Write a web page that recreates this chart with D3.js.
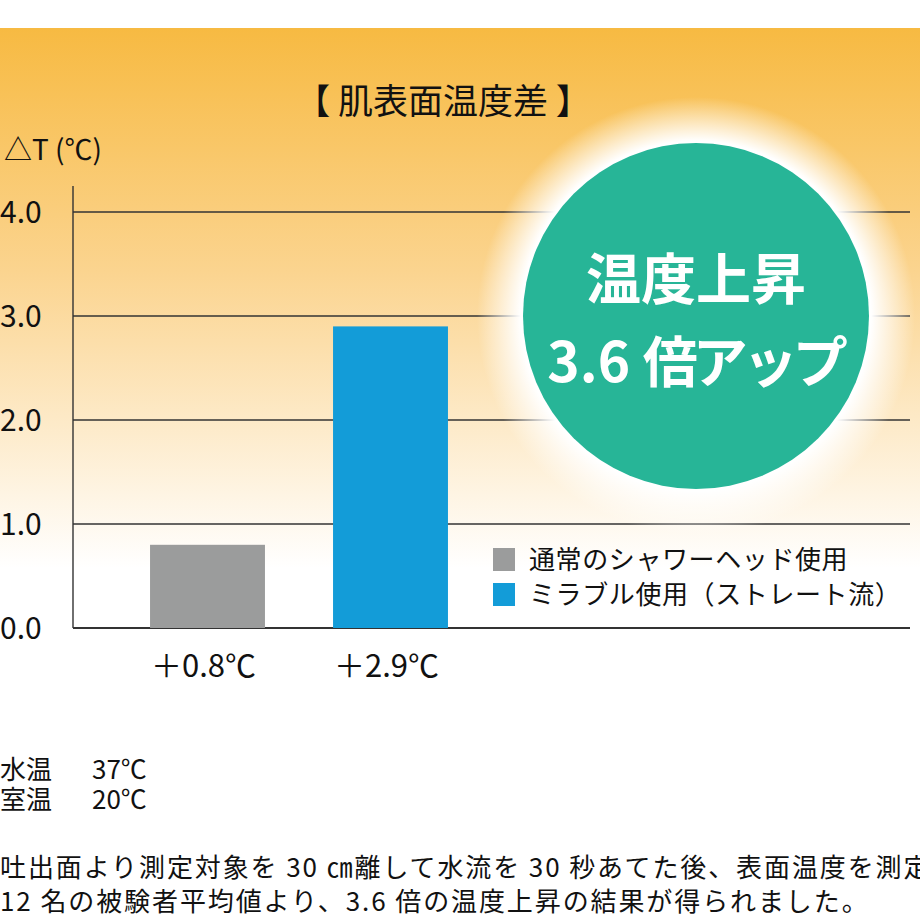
<!DOCTYPE html>
<html>
<head>
<meta charset="utf-8">
<script src="https://cdn.jsdelivr.net/npm/d3@7"></script>
<style>
body { margin: 0; background: #fff; }
text { font-family: "Noto Sans CJK JP", "Noto Sans", sans-serif; }
</style>
</head>
<body>
<div id="canvas"></div>
<script>
// ----------------------------------------------------------
// DATA -----------------------------------------------------
// ----------------------------------------------------------
var categories = ["通常のシャワーヘッド使用", "ミラブル使用（ストレート流）"];
var values = [0.8, 2.9];
var bar_labels = ["＋0.8℃", "＋2.9℃"];
var bar_colors = ["#9b9c9c", "#139cd8"];
var y_ticks = [0, 1, 2, 3, 4];
var notes = [["水温", "37℃"], ["室温", "20℃"]];
var footnote = [
  "吐出面より測定対象を 30 ㎝離して水流を 30 秒あてた後、表面温度を測定",
  "12 名の被験者平均値より、3.6 倍の温度上昇の結果が得られました。"
];

// ----------------------------------------------------------
// STRUCTURE ------------------------------------------------
// ----------------------------------------------------------
var W = 920, H = 920;
var plot_left = 73, plot_right = 910;
var plot_bottom = 628;

var container = d3.select("#canvas").append("svg")
  .attr("width", W)
  .attr("height", H);

var defs = container.append("defs");

var bg_grad = defs.append("linearGradient")
  .attr("id", "bg_grad")
  .attr("x1", 0).attr("y1", 0).attr("x2", 0).attr("y2", 1);
bg_grad.append("stop").attr("offset", "0").attr("stop-color", "#f7ba42");
bg_grad.append("stop").attr("offset", "0.45").attr("stop-color", "#fbd48f");
bg_grad.append("stop").attr("offset", "1").attr("stop-color", "#ffffff");

var glow_grad = defs.append("radialGradient")
  .attr("id", "glow_grad");
glow_grad.append("stop").attr("offset", "0.8").attr("stop-color", "#fff").attr("stop-opacity", 1);
glow_grad.append("stop").attr("offset", "0.9").attr("stop-color", "#fff").attr("stop-opacity", 0.5);
glow_grad.append("stop").attr("offset", "1").attr("stop-color", "#fff").attr("stop-opacity", 0);

// background
container.append("rect")
  .attr("x", 0).attr("y", 28)
  .attr("width", W).attr("height", 540)
  .style("fill", "url(#bg_grad)");

// ----------------------------------------------------------
// SCALES ---------------------------------------------------
// ----------------------------------------------------------
var yScale = d3.scaleLinear()
  .domain([0, 4])
  .range([plot_bottom, plot_bottom - 416]);

var xScale = d3.scaleBand()
  .domain(categories)
  .range([116, 482])
  .paddingInner(0.372)
  .paddingOuter(0.186);

// ----------------------------------------------------------
// GRID -----------------------------------------------------
// ----------------------------------------------------------
var grid_group = container.append("g").attr("class", "grid_group");

grid_group.selectAll("line")
  .data(y_ticks)
  .enter()
  .append("line")
  .attr("x1", plot_left)
  .attr("x2", plot_right)
  .attr("y1", d => yScale(d))
  .attr("y2", d => yScale(d))
  .style("stroke", "#333")
  .style("stroke-width", d => d === 0 ? 1.8 : 1.4);

grid_group.append("line")
  .attr("x1", plot_left).attr("x2", plot_left)
  .attr("y1", 186).attr("y2", plot_bottom)
  .style("stroke", "#333")
  .style("stroke-width", 1.4);

grid_group.selectAll("text")
  .data(y_ticks)
  .enter()
  .append("text")
  .attr("x", 0)
  .attr("y", d => yScale(d) + 11)
  .style("font-size", "30px")
  .style("fill", "#111")
  .text(d => d.toFixed(1));

// ----------------------------------------------------------
// BADGE ----------------------------------------------------
// ----------------------------------------------------------
var cx = 696, cy = 316, r = 173;

container.append("circle")
  .attr("cx", cx).attr("cy", cy).attr("r", r + 46)
  .style("fill", "url(#glow_grad)");

container.append("circle")
  .attr("cx", cx).attr("cy", cy).attr("r", r)
  .style("fill", "#27b597");

container.append("text")
  .attr("x", cx).attr("y", 299)
  .attr("text-anchor", "middle")
  .style("font-size", "55px")
  .style("font-weight", "bold")
  .style("fill", "#fff")
  .text("温度上昇");

var badge_2 = container.append("text")
  .attr("x", cx - 1).attr("y", 382)
  .attr("text-anchor", "middle")
  .style("font-size", "55px")
  .style("font-weight", "bold")
  .style("fill", "#fff");
badge_2.append("tspan").text("3.6 ");
badge_2.append("tspan").style("letter-spacing", "-5px").text("倍アップ");

// ----------------------------------------------------------
// BARS -----------------------------------------------------
// ----------------------------------------------------------
var bar_group = container.append("g").attr("class", "bar_group");

bar_group.selectAll("rect")
  .data(values)
  .enter()
  .append("rect")
  .attr("x", (d, i) => xScale(categories[i]))
  .attr("y", d => yScale(d))
  .attr("width", xScale.bandwidth())
  .attr("height", d => plot_bottom - yScale(d))
  .style("fill", (d, i) => bar_colors[i]);

bar_group.selectAll("text")
  .data(bar_labels)
  .enter()
  .append("text")
  .attr("x", (d, i) => xScale(categories[i]) + xScale.bandwidth() / 2 - 4)
  .attr("y", plot_bottom + 49)
  .attr("text-anchor", "middle")
  .style("font-size", "31px")
  .style("fill", "#111")
  .text(d => d);

// ----------------------------------------------------------
// TEXT -----------------------------------------------------
// ----------------------------------------------------------
container.append("text")
  .attr("x", 443).attr("y", 114)
  .attr("text-anchor", "middle")
  .style("font-size", "35px")
  .style("fill", "#111")
  .text("【 肌表面温度差 】");

container.append("text")
  .attr("x", 4).attr("y", 160)
  .style("font-size", "28px")
  .style("fill", "#111")
  .text("△T (℃)");

// legend
var legend = container.append("g")
  .attr("class", "legend")
  .attr("transform", "translate(493, 548)");

var legend_item = legend.selectAll("g")
  .data(categories)
  .enter()
  .append("g")
  .attr("transform", (d, i) => `translate(0, ${i * 35})`);

legend_item.append("rect")
  .attr("width", 22).attr("height", 23)
  .style("fill", (d, i) => bar_colors[i]);

legend_item.append("text")
  .attr("x", 36).attr("y", 21)
  .style("font-size", "26px")
  .style("letter-spacing", "0.6px")
  .style("fill", "#111")
  .text(d => d);

// notes
var note_group = container.append("g").attr("class", "note_group");

var note_row = note_group.selectAll("g")
  .data(notes)
  .enter()
  .append("g")
  .attr("transform", (d, i) => `translate(0, ${779 + i * 30})`);

note_row.append("text")
  .attr("x", 0)
  .style("font-size", "26px")
  .style("fill", "#111")
  .text(d => d[0]);

note_row.append("text")
  .attr("x", 92)
  .style("font-size", "26px")
  .style("fill", "#111")
  .text(d => d[1]);

note_group.selectAll(".foot")
  .data(footnote)
  .enter()
  .append("text")
  .attr("class", "foot")
  .attr("x", 0)
  .attr("y", (d, i) => 877 + i * 34)
  .style("font-size", "26px")
  .style("letter-spacing", "1.9px")
  .style("fill", "#111")
  .text(d => d);
</script>
</body>
</html>
